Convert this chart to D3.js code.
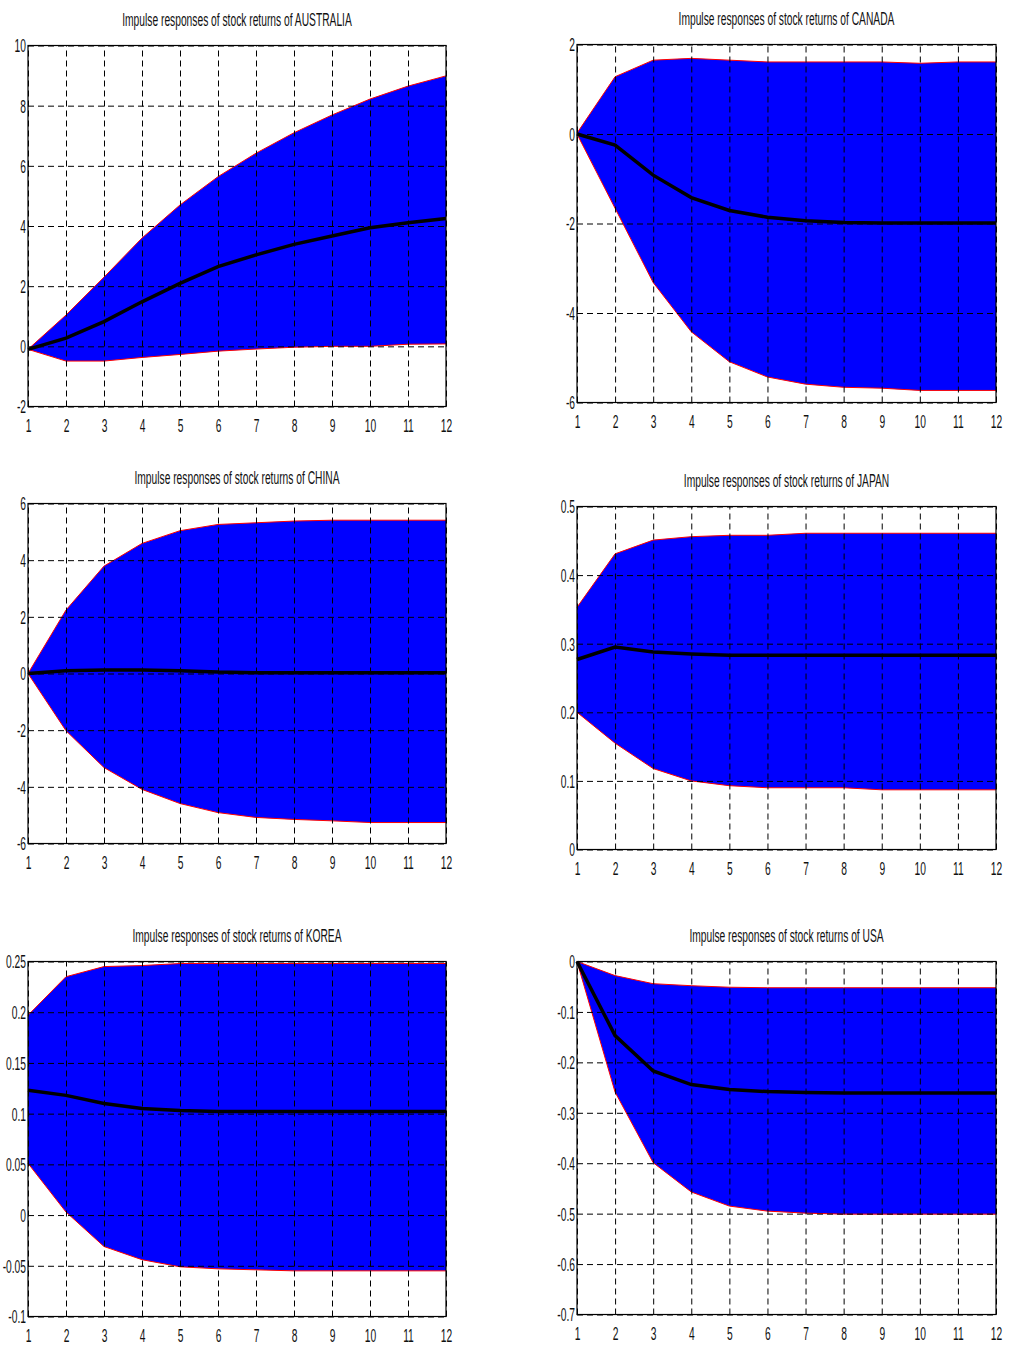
<!DOCTYPE html>
<html>
<head>
<meta charset="utf-8">
<script src="https://cdn.jsdelivr.net/npm/d3@7"></script>
<style>
  body { margin: 0; background: #fff; }
  svg text { font-family: "Liberation Sans Narrow", "Liberation Sans", Arial, sans-serif; fill: #111; }
</style>
</head>
<body>
<svg id="container" width="1010" height="1347"></svg>
<script>
  // horizons on the x axis
  const horizons = [1, 2, 3, 4, 5, 6, 7, 8, 9, 10, 11, 12];

  const countries = ['AUSTRALIA', 'CANADA', 'CHINA', 'JAPAN', 'KOREA', 'USA'];

  // y axis ticks for each panel
  const ausTicks = [-2, 0, 2, 4, 6, 8, 10];
  const canTicks = [-6, -4, -2, 0, 2];
  const chnTicks = [-6, -4, -2, 0, 2, 4, 6];
  const jpnTicks = [0, 0.1, 0.2, 0.3, 0.4, 0.5];
  const korTicks = [-0.1, -0.05, 0, 0.05, 0.1, 0.15, 0.2, 0.25];
  const usaTicks = [-0.7, -0.6, -0.5, -0.4, -0.3, -0.2, -0.1, 0];

  // impulse responses: upper band, median, lower band
  const ausUpper  = [-0.1, 1.04, 2.3, 3.6, 4.7, 5.64, 6.42, 7.1, 7.69, 8.22, 8.65, 8.99];
  const ausMedian = [-0.1, 0.27, 0.82, 1.48, 2.09, 2.65, 3.04, 3.39, 3.67, 3.94, 4.11, 4.25];
  const ausLower  = [-0.1, -0.49, -0.49, -0.37, -0.27, -0.16, -0.09, -0.03, 0, 0, 0.07, 0.08];

  const canUpper  = [0.02, 1.28, 1.65, 1.69, 1.65, 1.61, 1.61, 1.61, 1.61, 1.58, 1.61, 1.61];
  const canMedian = [0, -0.25, -0.92, -1.42, -1.71, -1.86, -1.94, -1.98, -1.99, -1.99, -1.99, -1.99];
  const canLower  = [0, -1.66, -3.32, -4.42, -5.09, -5.43, -5.59, -5.66, -5.68, -5.73, -5.73, -5.73];

  const chnUpper  = [0, 2.24, 3.79, 4.59, 5.04, 5.26, 5.32, 5.38, 5.41, 5.41, 5.41, 5.41];
  const chnMedian = [0, 0.1, 0.12, 0.12, 0.1, 0.05, 0.03, 0.03, 0.03, 0.03, 0.03, 0.03];
  const chnLower  = [0, -2.02, -3.32, -4.09, -4.59, -4.91, -5.08, -5.15, -5.2, -5.26, -5.26, -5.26];

  const jpnUpper  = [0.353, 0.431, 0.451, 0.456, 0.458, 0.458, 0.461, 0.461, 0.461, 0.461, 0.461, 0.461];
  const jpnMedian = [0.277, 0.295, 0.288, 0.285, 0.283, 0.283, 0.283, 0.283, 0.283, 0.283, 0.283, 0.283];
  const jpnLower  = [0.2, 0.155, 0.118, 0.1, 0.093, 0.09, 0.09, 0.09, 0.087, 0.087, 0.087, 0.087];

  const korUpper  = [0.197, 0.235, 0.245, 0.246, 0.248, 0.248, 0.248, 0.248, 0.248, 0.248, 0.248, 0.248];
  const korMedian = [0.123, 0.118, 0.11, 0.105, 0.103, 0.102, 0.102, 0.102, 0.102, 0.102, 0.102, 0.102];
  const korLower  = [0.051, 0.003, -0.031, -0.044, -0.051, -0.053, -0.054, -0.055, -0.055, -0.055, -0.055, -0.055];

  const usaUpper  = [0, -0.028, -0.044, -0.048, -0.051, -0.052, -0.052, -0.052, -0.052, -0.052, -0.052, -0.052];
  const usaMedian = [0, -0.147, -0.217, -0.244, -0.254, -0.258, -0.26, -0.261, -0.261, -0.261, -0.261, -0.261];
  const usaLower  = [0, -0.259, -0.399, -0.457, -0.485, -0.495, -0.499, -0.501, -0.501, -0.501, -0.501, -0.501];

  const panels = [
    { name: countries[0], ticks: ausTicks, upper: ausUpper, median: ausMedian, lower: ausLower, left: 28, right: 446, top: 45.5, bottom: 406.5 },
    { name: countries[1], ticks: canTicks, upper: canUpper, median: canMedian, lower: canLower, left: 577, right: 996, top: 44.5, bottom: 402.5 },
    { name: countries[2], ticks: chnTicks, upper: chnUpper, median: chnMedian, lower: chnLower, left: 28, right: 446, top: 503.5, bottom: 843.5 },
    { name: countries[3], ticks: jpnTicks, upper: jpnUpper, median: jpnMedian, lower: jpnLower, left: 577, right: 996, top: 506.5, bottom: 849.5 },
    { name: countries[4], ticks: korTicks, upper: korUpper, median: korMedian, lower: korLower, left: 28, right: 446, top: 961.5, bottom: 1316.5 },
    { name: countries[5], ticks: usaTicks, upper: usaUpper, median: usaMedian, lower: usaLower, left: 577, right: 996, top: 961.5, bottom: 1314.5 },
  ];

  const SX = 0.54; // text is drawn very condensed in the original
  const fmt = (v) => String(Math.round(v * 100) / 100);

  const svg = d3.select('#container');

  panels.forEach((p) => {
    const x = d3.scaleLinear().domain([1, 12]).range([p.left, p.right]);
    const y = d3.scaleLinear().domain(d3.extent(p.ticks)).range([p.bottom, p.top]);
    const g = svg.append('g');

    // band
    const band = horizons.map((h, i) => ({ h, hi: p.upper[i], lo: p.lower[i] }));
    g.append('path')
      .datum(band)
      .attr('fill', '#0000ff')
      .attr('d', d3.area().x((d) => x(d.h)).y0((d) => y(d.lo)).y1((d) => y(d.hi)));

    const edge = (vals) => d3.line().x((d, i) => x(horizons[i])).y((d) => y(d))(vals);
    g.append('path').attr('d', edge(p.upper)).attr('fill', 'none').attr('stroke', '#ff0000').attr('stroke-width', 1);
    g.append('path').attr('d', edge(p.lower)).attr('fill', 'none').attr('stroke', '#ff0000').attr('stroke-width', 1);

    // grid
    const xAxis = d3.axisBottom(x).tickValues(horizons).tickSize(-(p.bottom - p.top)).tickFormat(d3.format('d'));
    const yAxis = d3.axisLeft(y).tickValues(p.ticks).tickSize(-(p.right - p.left)).tickFormat(fmt);

    const gx = g.append('g').attr('transform', `translate(0,${p.bottom})`).call(xAxis);
    const gy = g.append('g').attr('transform', `translate(${p.left},0)`).call(yAxis);
    [gx, gy].forEach((a) => {
      a.select('.domain').remove();
      a.selectAll('line')
        .attr('stroke', '#000')
        .attr('stroke-width', 1)
        .attr('stroke-dasharray', '6,4');
    });

    gx.selectAll('text')
      .attr('y', 0)
      .attr('dy', 0)
      .attr('transform', `translate(0,25) scale(${SX},1)`)
      .style('font-size', '19px');
    gy.selectAll('text')
      .attr('x', 0)
      .attr('dy', '0.34em')
      .attr('transform', `translate(-2,0) scale(${SX},1)`)
      .style('font-size', '19px');

    // median
    g.append('path')
      .attr('d', edge(p.median))
      .attr('fill', 'none')
      .attr('stroke', '#000')
      .attr('stroke-width', 3.5);

    // box
    g.append('rect')
      .attr('x', p.left)
      .attr('y', p.top)
      .attr('width', p.right - p.left)
      .attr('height', p.bottom - p.top)
      .attr('fill', 'none')
      .attr('stroke', '#000')
      .attr('stroke-width', 1.2);

    svg.append('text')
      .attr('text-anchor', 'middle')
      .attr('transform', `translate(${(p.left + p.right) / 2},${p.top - 20}) scale(${SX},1)`)
      .style('font-size', '19px')
      .text('Impulse responses of stock returns of ' + p.name);
  });
</script>
</body>
</html>
